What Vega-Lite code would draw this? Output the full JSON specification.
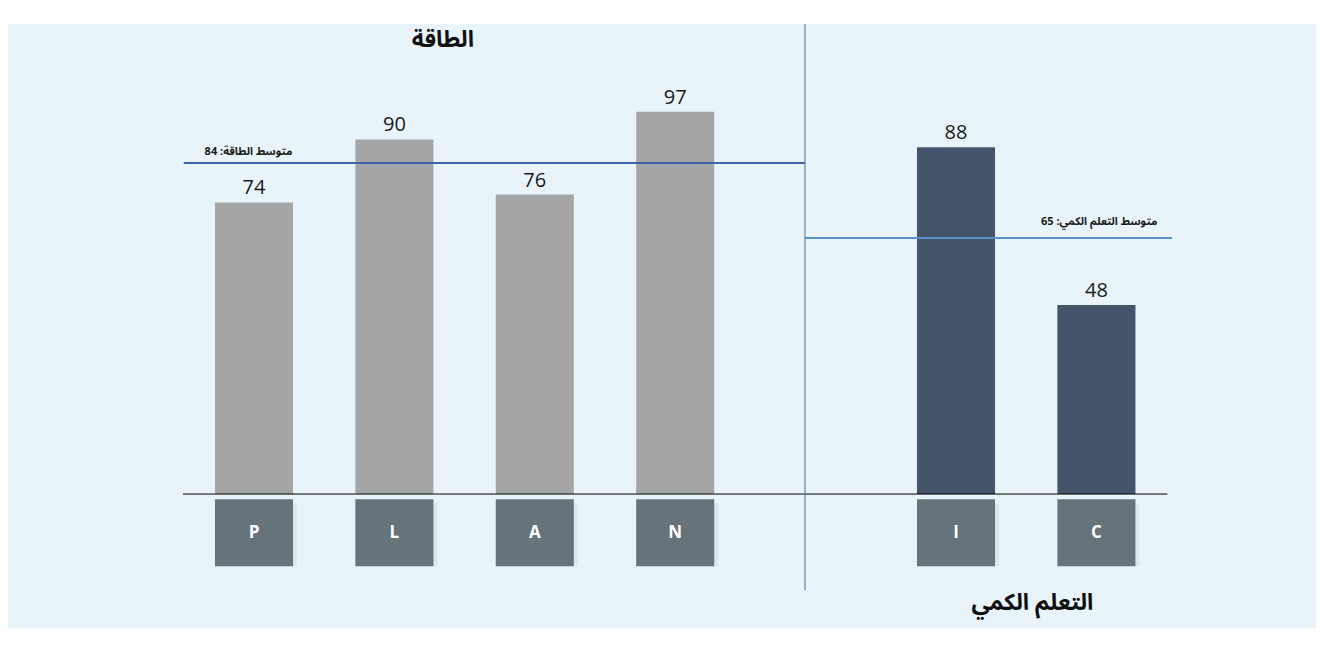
{
  "$schema": "https://vega.github.io/schema/vega-lite/v6.json",
  "width": 1308,
  "height": 604,
  "autosize": {"type": "none"},
  "padding": {"left": 8, "top": 24, "right": 18, "bottom": 25},
  "background": "#ffffff",
  "config": {
    "view": {"stroke": null, "fill": "#e8f4f9"},
    "axis": {"disable": true},
    "text": {"font": "Open Sans, Noto Sans Arabic, Noto Sans, DejaVu Sans"}
  },
  "datasets": {
    "scores": [
      {"cat": "P", "value": 74, "group": "الطاقة"},
      {"cat": "L", "value": 90, "group": "الطاقة"},
      {"cat": "A", "value": 76, "group": "الطاقة"},
      {"cat": "N", "value": 97, "group": "الطاقة"},
      {"cat": "I", "value": 88, "group": "التعلم الكمي"},
      {"cat": "C", "value": 48, "group": "التعلم الكمي"}
    ],
    "means": [
      {"group": "الطاقة", "mean": 84, "label": "متوسط الطاقة: 84"},
      {"group": "التعلم الكمي", "mean": 65, "label": "متوسط التعلم الكمي: 65"}
    ],
    "one": [{"k": 1}]
  },
  "layer": [
    {
      "data": {"name": "scores"},
      "mark": {"type": "bar"},
      "encoding": {
        "x": {
          "field": "cat", "type": "nominal",
          "scale": {"domain": ["P", "L", "A", "N", " ", "I", "C"], "range": [175.8, 1158.6], "paddingInner": 0.444, "paddingOuter": 0.222},
          "axis": null
        },
        "y": {"field": "value", "type": "quantitative", "scale": {"domain": [-34, 119.3], "nice": false, "zero": false}, "axis": null},
        "y2": {"datum": 0},
        "color": {"field": "group", "type": "nominal", "scale": {"domain": ["الطاقة", "التعلم الكمي"], "range": ["#a5a5a5", "#44546a"]}, "legend": null}
      }
    },
    {
      "data": {"name": "scores"},
      "mark": {"type": "text", "baseline": "alphabetic", "dy": -8, "fontSize": 20, "color": "#1a1a1a"},
      "encoding": {
        "x": {"field": "cat", "type": "nominal"},
        "y": {"field": "value", "type": "quantitative"},
        "text": {"field": "value", "type": "quantitative"}
      }
    },
    {
      "data": {"name": "scores"},
      "mark": {"type": "bar", "color": "#d3dfe6", "xOffset": 4, "yOffset": 4, "opacity": 0.6},
      "encoding": {
        "x": {"field": "cat", "type": "nominal"},
        "y": {"datum": -1.3},
        "y2": {"datum": -18.3}
      }
    },
    {
      "data": {"name": "scores"},
      "mark": {"type": "bar", "color": "#66737b"},
      "encoding": {
        "x": {"field": "cat", "type": "nominal"},
        "y": {"datum": -1.3},
        "y2": {"datum": -18.3}
      }
    },
    {
      "data": {"name": "scores"},
      "mark": {"type": "text", "baseline": "middle", "fontSize": 17, "fontWeight": "bold", "color": "#ffffff"},
      "encoding": {
        "x": {"field": "cat", "type": "nominal"},
        "y": {"datum": -9.9},
        "text": {"field": "cat"}
      }
    },
    {
      "data": {"name": "one"},
      "mark": {"type": "rule", "color": "#000000", "strokeWidth": 1},
      "encoding": {
        "x": {"datum": "P", "bandPosition": -0.41},
        "x2": {"datum": "C", "bandPosition": 1.41},
        "y": {"datum": 0}
      }
    },
    {
      "data": {"name": "one"},
      "mark": {"type": "rule", "color": "#4a6fa5", "strokeWidth": 1},
      "encoding": {
        "x": {"datum": " ", "bandPosition": 0.364},
        "y": {"datum": 119.3},
        "y2": {"datum": -24.4}
      }
    },
    {
      "data": {"name": "means"},
      "transform": [{"filter": "datum.group === 'الطاقة'"}],
      "mark": {"type": "rule", "color": "#3b64ad", "strokeWidth": 2},
      "encoding": {
        "x": {"datum": "P", "bandPosition": -0.4},
        "x2": {"datum": " ", "bandPosition": 0.364},
        "y": {"field": "mean", "type": "quantitative"}
      }
    },
    {
      "data": {"name": "means"},
      "transform": [{"filter": "datum.group === 'التعلم الكمي'"}],
      "mark": {"type": "rule", "color": "#5b8fc9", "strokeWidth": 2},
      "encoding": {
        "x": {"datum": " ", "bandPosition": 0.364},
        "x2": {"datum": "C", "bandPosition": 1.47},
        "y": {"field": "mean", "type": "quantitative"}
      }
    },
    {
      "data": {"name": "means"},
      "transform": [{"filter": "datum.group === 'الطاقة'"}],
      "mark": {"type": "text", "dir": "rtl", "align": "center", "baseline": "middle", "fontSize": 11, "fontWeight": "bold", "color": "#1a1a1a", "dy": -11},
      "encoding": {
        "x": {"datum": "P", "bandPosition": 0.43},
        "y": {"field": "mean", "type": "quantitative"},
        "text": {"field": "label"}
      }
    },
    {
      "data": {"name": "means"},
      "transform": [{"filter": "datum.group === 'التعلم الكمي'"}],
      "mark": {"type": "text", "dir": "rtl", "align": "center", "baseline": "middle", "fontSize": 11, "fontWeight": "bold", "color": "#1a1a1a", "dy": -16},
      "encoding": {
        "x": {"datum": "C", "bandPosition": 0.535},
        "y": {"field": "mean", "type": "quantitative"},
        "text": {"field": "label"}
      }
    },
    {
      "data": {"name": "one"},
      "mark": {"type": "text", "dir": "rtl", "align": "center", "baseline": "middle", "fontSize": 23, "fontWeight": "bold", "color": "#111111", "text": "الطاقة"},
      "encoding": {
        "x": {"datum": "L", "bandPosition": 1.12},
        "y": {"datum": 115.2}
      }
    },
    {
      "data": {"name": "one"},
      "mark": {"type": "text", "dir": "rtl", "align": "center", "baseline": "middle", "fontSize": 23, "fontWeight": "bold", "color": "#111111", "text": "التعلم الكمي"},
      "encoding": {
        "x": {"datum": "C", "bandPosition": -0.32},
        "y": {"datum": -27.7}
      }
    }
  ]
}
